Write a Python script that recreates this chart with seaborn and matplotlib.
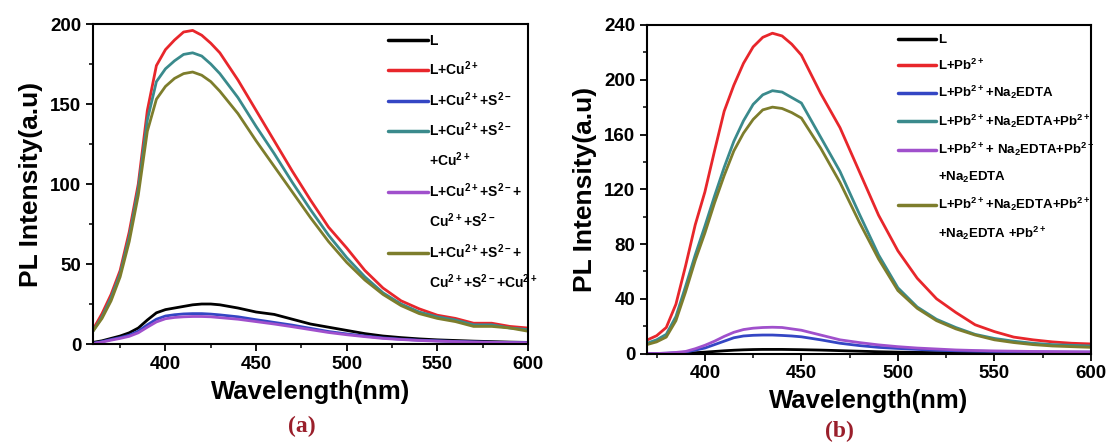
import pandas as pd
import matplotlib
matplotlib.use('Agg')
import matplotlib.pyplot as plt
from matplotlib.lines import Line2D
from matplotlib.ticker import MultipleLocator
import seaborn as sns

# ---- panel (a): Cu2+ / S2- ----
wl_a = [360, 365, 370, 375, 380, 385, 390, 395, 400, 405, 410, 415, 420, 425, 430,
        440, 450, 460, 470, 480, 490, 500, 510, 520, 530, 540, 550, 560, 570, 580, 590, 600]
a_L = [1, 2, 3.5, 5, 7, 10, 15, 19.5, 21.5, 22.5, 23.5, 24.5, 25, 25, 24.5,
       22.5, 20, 18.5, 15.5, 12.5, 10.5, 8.5, 6.5, 5, 4, 3.2, 2.6, 2.2, 1.8, 1.5, 1.2, 1]
a_Cu = [9, 19, 31, 46, 70, 100, 146, 174, 184, 190, 195, 196, 193, 188, 182,
        165, 146, 127, 108, 90, 73, 60, 46, 35, 27, 22, 18, 16, 13, 13, 11, 10]
a_CuS = [0.5, 1.5, 2.8, 4, 5.5, 8, 12, 15.5, 17.5, 18.3, 18.8, 19, 19, 18.7, 18.2,
         17, 15.2, 13.5, 11.8, 9.8, 7.8, 6.3, 5, 3.8, 3, 2.4, 2, 1.6, 1.3, 1.1, 1, 0.9]
a_CuSCu = [8, 17, 29, 44, 67, 97, 140, 164, 172, 177, 181, 182, 180, 175, 169,
           154, 136, 119, 101, 84, 68, 54, 42, 32, 25, 20, 17, 15, 12, 12, 10, 9]
a_CuSCuS = [0.3, 1.2, 2.4, 3.5, 4.8, 7, 10.5, 13.8, 15.8, 16.6, 17, 17.2, 17.2, 17, 16.5,
            15.5, 14, 12.5, 10.8, 9, 7.2, 5.8, 4.6, 3.5, 2.8, 2.2, 1.8, 1.5, 1.2, 1.0, 0.9, 0.8]
a_CuSCuSCu = [8, 16, 27, 42, 64, 93, 133, 153, 161, 166, 169, 170, 168, 164, 158,
              144, 127, 111, 95, 79, 64, 51, 40, 31, 24, 19, 16, 14, 11, 11, 10, 8]
labels_a = ['L',
            'L+Cu$^{2+}$',
            'L+Cu$^{2+}$+S$^{2-}$',
            'L+Cu$^{2+}$+S$^{2-}$\n+Cu$^{2+}$',
            'L+Cu$^{2+}$+S$^{2-}$+\nCu$^{2+}$+S$^{2-}$',
            'L+Cu$^{2+}$+S$^{2-}$+\nCu$^{2+}$+S$^{2-}$+Cu$^{2+}$']

# ---- panel (b): Pb2+ / Na2EDTA ----
wl_b = [370, 375, 380, 385, 390, 395, 400, 405, 410, 415, 420, 425, 430, 435, 440,
        445, 450, 460, 470, 480, 490, 500, 510, 520, 530, 540, 550, 560, 570, 580, 590, 600]
b_L = [0, 0, 0, 0.1, 0.3, 0.6, 1, 1.5, 2, 2.4, 2.7, 2.9, 3, 3, 3,
       2.9, 2.8, 2.5, 2.1, 1.7, 1.3, 1, 0.8, 0.7, 0.6, 0.5, 0.5, 0.4, 0.4, 0.3, 0.3, 0.3]
b_Pb = [9.8, 13, 19, 36, 64, 94, 118, 148, 177, 196, 212, 224, 231, 234, 232,
        226, 218, 190, 165, 133, 101, 75, 55, 40, 30, 21, 16, 12, 10, 8.5, 7.5, 7]
b_PbE = [0, 0, 0.2, 0.5, 1, 2.5, 4, 6.5, 9, 11.5, 12.8, 13.3, 13.5, 13.5, 13.2,
         12.8, 12.2, 10, 7.5, 5.8, 4.5, 3.7, 3, 2.4, 2, 1.7, 1.5, 1.3, 1.2, 1.1, 1, 1]
b_PbEPb = [7.5, 10, 14, 27, 49, 72, 93, 115, 136, 155, 170, 182, 189, 192, 191,
           187, 183, 158, 133, 102, 72, 48, 34, 25, 19, 14, 11, 9, 7.5, 6.5, 6, 5.5]
b_PbEPbE = [0, 0, 0.3, 0.8, 1.5, 3.5, 6, 9, 12.5, 15.5, 17.5, 18.5, 19, 19.2, 19,
            18, 17, 13.5, 10, 8, 6.3, 5, 4, 3.3, 2.6, 2.2, 1.9, 1.7, 1.5, 1.4, 1.3, 1.2]
b_PbEPbEPb = [6.5, 8.5, 12, 24, 45, 68, 88, 110, 130, 148, 161, 171, 178, 180, 179,
              176, 172, 150, 125, 96, 69, 46, 33, 24, 18, 13.5, 10, 8, 6.5, 5.5, 5, 4.5]
labels_b = ['L',
            'L+Pb$^{2+}$',
            'L+Pb$^{2+}$+Na$_2$EDTA',
            'L+Pb$^{2+}$+Na$_2$EDTA+Pb$^{2+}$',
            'L+Pb$^{2+}$+ Na$_2$EDTA+Pb$^{2+}$\n+Na$_2$EDTA',
            'L+Pb$^{2+}$+Na$_2$EDTA+Pb$^{2+}$\n+Na$_2$EDTA +Pb$^{2+}$']

colors = ['#000000', '#e8262b', '#3446c4', '#3a8a8c', '#a050cc', '#7d7d2c']


def long_df(wl, series, labels):
    rows = []
    for vals, lab in zip(series, labels):
        for w, v in zip(wl, vals):
            rows.append({'wl': w, 'val': v, 'label': lab})
    return pd.DataFrame(rows)


df_a = long_df(wl_a, [a_L, a_Cu, a_CuS, a_CuSCu, a_CuSCuS, a_CuSCuSCu], labels_a)
df_b = long_df(wl_b, [b_L, b_Pb, b_PbE, b_PbEPb, b_PbEPbE, b_PbEPbEPb], labels_b)

sns.set_style('ticks')
plt.rcParams['font.family'] = ['Liberation Sans', 'DejaVu Sans']
plt.rcParams['font.weight'] = 'bold'
plt.rcParams['mathtext.fontset'] = 'custom'
plt.rcParams['mathtext.rm'] = 'Liberation Sans:bold'
plt.rcParams['mathtext.bf'] = 'Liberation Sans:bold'
plt.rcParams['mathtext.default'] = 'bf'
for key in ['text.color', 'axes.labelcolor', 'xtick.color', 'ytick.color']:
    plt.rcParams[key] = 'black'

fig = plt.figure(figsize=(11.08, 4.44), dpi=100)
ax1 = fig.add_axes([0.0839, 0.2252, 0.3926, 0.7207])
ax2 = fig.add_axes([0.5839, 0.2038, 0.4007, 0.7399])


def draw(ax, df, labels, xmin, ymax, ymaj, legx, fs, lsp):
    sns.lineplot(data=df, x='wl', y='val', hue='label', hue_order=labels,
                 palette=dict(zip(labels, colors)), linewidth=2.0,
                 sort=False, estimator=None, legend=False, ax=ax)
    ax.set_xlim(xmin, 600)
    ax.set_ylim(0, ymax)
    ax.xaxis.set_major_locator(MultipleLocator(50))
    ax.xaxis.set_minor_locator(MultipleLocator(25))
    ax.yaxis.set_major_locator(MultipleLocator(ymaj))
    ax.yaxis.set_minor_locator(MultipleLocator(ymaj / 2))
    ax.tick_params(which='major', length=5, width=1.3, labelsize=13.5, direction='out')
    ax.tick_params(which='minor', length=3, width=1.1, direction='out')
    for lab in ax.get_xticklabels() + ax.get_yticklabels():
        lab.set_fontweight('bold')
    for sp in ax.spines.values():
        sp.set_visible(True)
        sp.set_linewidth(1.5)
        sp.set_color('black')
    ax.set_xlabel('Wavelength(nm)', fontsize=18.5, fontweight='bold', labelpad=5)
    ax.set_ylabel('PL Intensity(a.u)', fontsize=19, fontweight='bold', labelpad=5)

    # legend: handle on the first line of a label, continuation lines without a handle
    handles, texts = [], []
    for lab, col in zip(labels, colors):
        parts = lab.split('\n')
        handles.append(Line2D([], [], color=col, linewidth=2.5))
        texts.append(parts[0])
        for extra in parts[1:]:
            handles.append(Line2D([], [], color='none'))
            texts.append(extra)
    ax.legend(handles, texts, loc='upper left', bbox_to_anchor=(legx, 1.0),
              frameon=False, handlelength=2.9, handletextpad=0.1,
              labelspacing=lsp, borderaxespad=0.3,
              prop={'size': fs, 'weight': 'bold'})


draw(ax1, df_a, labels_a, 360, 200, 50, 0.655, 10, 0.85)
draw(ax2, df_b, labels_b, 370, 240, 40, 0.545, 9.5, 0.85)

fig.text(0.272, 0.04, '(a)', color='#9a1f2b', fontsize=17, fontweight='bold',
         family=['Liberation Serif'], ha='center', va='center')
fig.text(0.758, 0.028, '(b)', color='#9a1f2b', fontsize=17, fontweight='bold',
         family=['Liberation Serif'], ha='center', va='center')

fig.savefig('out.png', dpi=100)
